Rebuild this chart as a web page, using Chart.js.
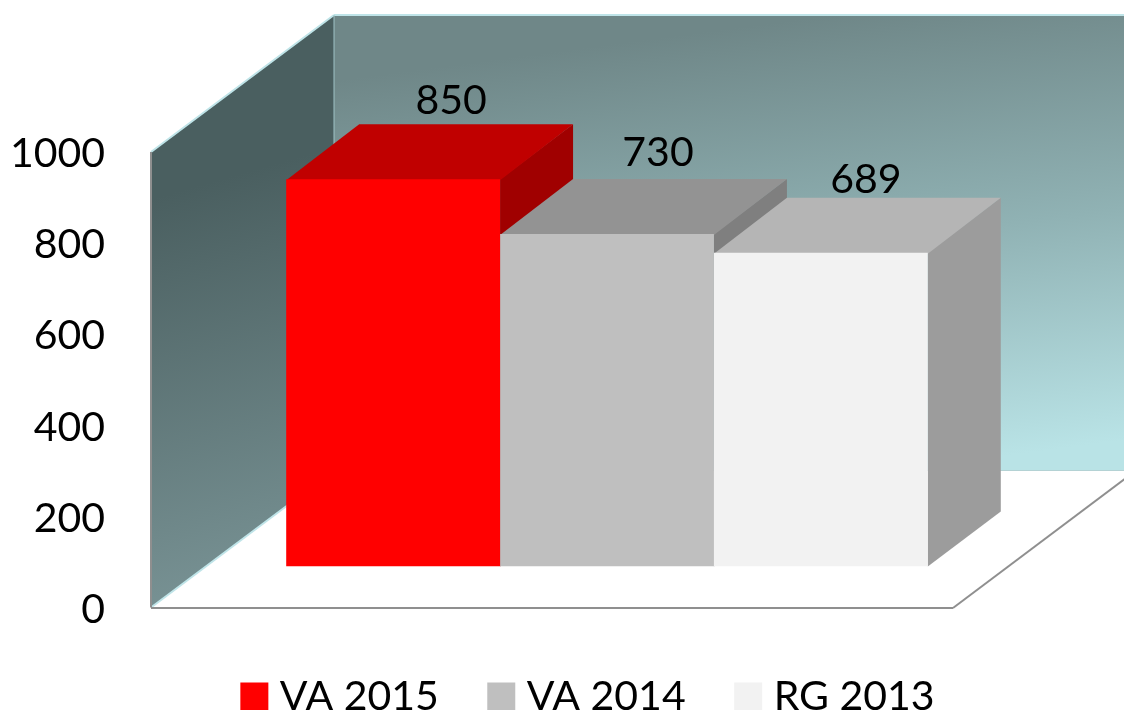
<!DOCTYPE html>
<html><head><meta charset="utf-8">
<style>html,body{margin:0;padding:0;background:#fff;overflow:hidden}canvas{display:block}</style>
<script src="https://cdn.jsdelivr.net/npm/chart.js@4/dist/chart.umd.min.js"></script>
</head><body>
<canvas id="c" width="1124" height="710"></canvas>
<script>
const categories = [""];
const seriesNames = ["VA 2015", "VA 2014", "RG 2013"];
const va2015 = [850];
const va2014 = [730];
const rg2013 = [689];
const tickLabels = [0, 200, 400, 600, 800, 1000];
const frontColors = ["#ff0000", "#bfbfbf", "#f2f2f2"];
const topColors = ["#c00000", "#939393", "#b5b5b5"];
const sideColors = ["#a00000", "#7f7f7f", "#9c9c9c"];
const labelNudgeX = [58, 51, 45];
const labelNudgeY = [-65.5, -67.5, -59.5];
const FONT = "Lato, Carlito, sans-serif";
const FS = 41;
// perspective vectors (projection of chart depth onto the screen)
const barDepth = {x: 73, y: -55};
const frontShift = {x: -55, y: 41};
const backShift = {x: 128, y: -96};

function poly(ctx, pts, fill) {
  ctx.beginPath();
  pts.forEach((p, i) => i ? ctx.lineTo(p[0], p[1]) : ctx.moveTo(p[0], p[1]));
  ctx.closePath();
  if (fill) { ctx.fillStyle = fill; ctx.fill(); }
}
function line(ctx, a, b, color, w) {
  ctx.beginPath(); ctx.moveTo(a[0], a[1]); ctx.lineTo(b[0], b[1]);
  ctx.strokeStyle = color; ctx.lineWidth = w; ctx.stroke();
}

const room = {
  id: "room",
  afterUpdate(chart) {
    const l = chart.legend;
    const shift = 88;
    l.left += shift; l.right += shift;
    const h = l.height;
    l.top = 618.5; l.bottom = l.top + h;
  },
  beforeDatasetsDraw(chart) {
    const ctx = chart.ctx, a = chart.chartArea, y = chart.scales.y;
    const b = y.getPixelForValue(0), t = y.getPixelForValue(1000);
    const fl = a.left + frontShift.x, fr = a.right + frontShift.x, fb = b + frontShift.y, ft = t + frontShift.y;
    const bl = a.left + backShift.x, br = a.right + backShift.x + 200, bb = b + backShift.y, bt = t + backShift.y;
    ctx.save();
    // floor
    poly(ctx, [[fl, fb], [fr, fb], [a.right + backShift.x, bb], [bl, bb]], "#ffffff");
    // back wall
    const g = ctx.createLinearGradient(bl + 500, bt, bl + 560, bb);
    g.addColorStop(0, "#6f8788"); g.addColorStop(0.5, "#90b2b4"); g.addColorStop(1, "#b9e3e6");
    poly(ctx, [[bl, bt], [br, bt], [br, bb], [bl, bb]], g);
    // side wall
    const g2 = ctx.createLinearGradient(fl + 60, ft + 30, fl + 170, fb - 40);
    g2.addColorStop(0, "#4a5f60"); g2.addColorStop(1, "#789294");
    poly(ctx, [[fl, ft], [bl, bt], [bl, bb], [fl, fb]], g2);
    // edges
    line(ctx, [fl, ft], [bl, bt], "#bfe4e8", 2);
    line(ctx, [bl, bt], [br, bt], "#bfe4e8", 2);
    line(ctx, [bl, bt], [bl, bb], "#9fc3c6", 1);
    line(ctx, [fl, fb], [bl, bb], "#bfe4e8", 2);
    line(ctx, [bl, bb], [br, bb], "#b4d2d4", 1);
    line(ctx, [fl, ft], [fl, fb], "#8f8f8f", 2);
    line(ctx, [fl, fb + 0.5], [fr, fb + 0.5], "#8f8f8f", 2);
    line(ctx, [fr, fb + 0.5], [a.right + backShift.x, bb], "#8f8f8f", 2);
    // bar depth faces, painted left to right
    chart.data.datasets.forEach((d, i) => {
      const e = chart.getDatasetMeta(i).data[0];
      const L = e.x - e.width / 2, R = e.x + e.width / 2;
      const dx = barDepth.x, dy = barDepth.y;
      poly(ctx, [[R, e.y], [R + dx, e.y + dy], [R + dx, e.base + dy], [R, e.base]], sideColors[i]);
      poly(ctx, [[L, e.y + 1], [L + dx, e.y + dy], [R + dx, e.y + dy], [R, e.y + 1]], topColors[i]);
    });
    ctx.restore();
  },
  afterDatasetsDraw(chart) {
    const ctx = chart.ctx;
    ctx.save();
    ctx.font = FS + "px " + FONT;
    ctx.fillStyle = "#000";
    ctx.textAlign = "center";
    ctx.textBaseline = "alphabetic";
    chart.data.datasets.forEach((d, i) => {
      const e = chart.getDatasetMeta(i).data[0];
      ctx.fillText(String(d.data[0]), e.x + labelNudgeX[i], e.y + labelNudgeY[i]);
    });
    ctx.restore();
  }
};

new Chart(document.getElementById("c"), {
  type: "bar",
  data: {
    labels: categories,
    datasets: [va2015, va2014, rg2013].map((v, i) => ({
      label: seriesNames[i], data: v, backgroundColor: frontColors[i], borderWidth: 0
    }))
  },
  options: {
    responsive: false,
    animation: false,
    events: [],
    layout: {padding: {top: 111, right: 116, left: 0, bottom: 35}},
    datasets: {bar: {categoryPercentage: 0.8, barPercentage: 1}},
    scales: {
      x: {display: false, grid: {display: false}},
      y: {
        min: 0, max: 1000,
        afterBuildTicks(s) { s.ticks = tickLabels.map(v => ({value: v})); },
        afterFit(s) { s.width = 206; },
        grid: {display: false, tickLength: 101},
        border: {display: false},
        ticks: {color: "#000", font: {family: FONT, size: FS}, padding: 0, labelOffset: 43, autoSkip: false,
                callback: v => String(v)}
      }
    },
    plugins: {
      tooltip: {enabled: false},
      legend: {
        position: "bottom",
        labels: {
          color: "#000",
          font: {family: FONT, size: FS},
          boxWidth: 10, boxHeight: 10, padding: 57.5,
          generateLabels(chart) {
            return chart.data.datasets.map((d, i) => ({
              text: d.label, fillStyle: frontColors[i], strokeStyle: frontColors[i],
              lineWidth: 18, lineJoin: "miter", datasetIndex: i, hidden: false, fontColor: "#000"
            }));
          }
        }
      }
    }
  },
  plugins: [room]
});
</script>
</body></html>
